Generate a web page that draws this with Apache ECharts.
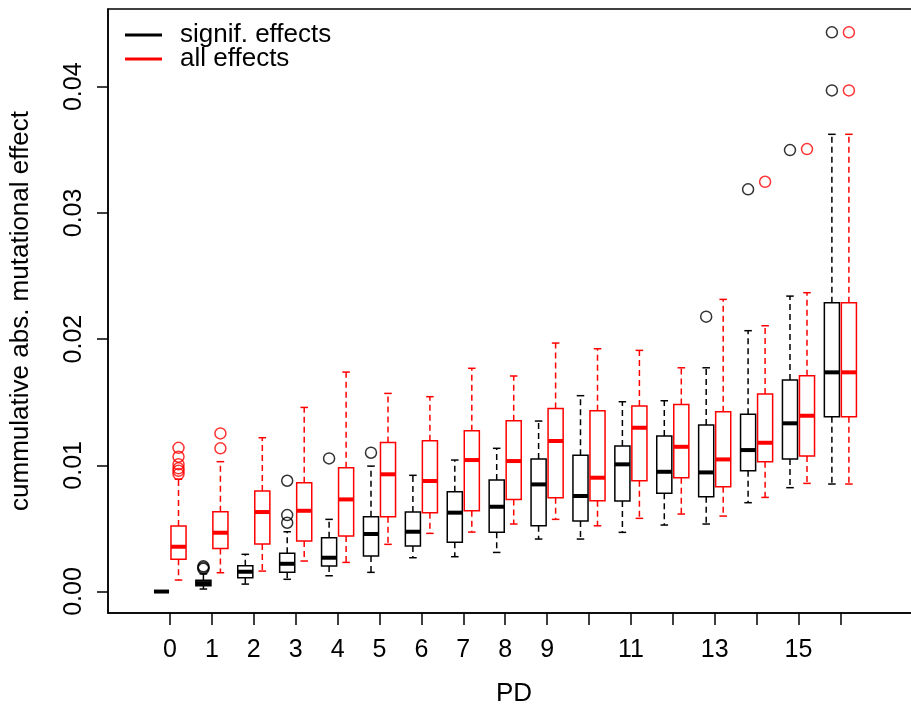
<!DOCTYPE html>
<html>
<head>
<meta charset="utf-8">
<script src="https://cdn.jsdelivr.net/npm/echarts@6/dist/echarts.min.js"></script>
<style>html,body{margin:0;padding:0;background:#fff}#c{width:911px;height:709px}</style>
</head>
<body>
<div id="c"></div>
<script>
// PD categories (positions of the groups)
const pdValues = [0,1,2,3,4,5,6,7,8,9,10,11,12,13,14,15,16];
const pdTickLabels = [0,1,2,3,4,5,6,7,8,9,11,13,15];
const yTickValues = [0, 0.01, 0.02, 0.03, 0.04];

// [min whisker, Q1, median, Q3, max whisker] per PD — significant effects
const signifBoxes = [
  [0, 0, 0, 0, 0],
  [0.00020, 0.00045, 0.00067, 0.00090, 0.00140],
  [0.00059, 0.00109, 0.00157, 0.00205, 0.00295],
  [0.00097, 0.00152, 0.00220, 0.00303, 0.00474],
  [0.00125, 0.00202, 0.00268, 0.00427, 0.00572],
  [0.00152, 0.00281, 0.00456, 0.00593, 0.00994],
  [0.00268, 0.00361, 0.00474, 0.00630, 0.00921],
  [0.00276, 0.00390, 0.00625, 0.00791, 0.01042],
  [0.00310, 0.00469, 0.00672, 0.00884, 0.01135],
  [0.00416, 0.00521, 0.00849, 0.01050, 0.01351],
  [0.00416, 0.00559, 0.00757, 0.01079, 0.01552],
  [0.00469, 0.00717, 0.01008, 0.01153, 0.01504],
  [0.00527, 0.00778, 0.00949, 0.01232, 0.01512],
  [0.00535, 0.00751, 0.00944, 0.01319, 0.01773],
  [0.00704, 0.00957, 0.01121, 0.01404, 0.02067],
  [0.00823, 0.01050, 0.01333, 0.01676, 0.02341],
  [0.00852, 0.01385, 0.01737, 0.02288, 0.03623]
];
// all effects
const allBoxes = [
  [0.00091, 0.00255, 0.00355, 0.00519, 0.00890],
  [0.00149, 0.00342, 0.00466, 0.00632, 0.01029],
  [0.00162, 0.00376, 0.00630, 0.00796, 0.01219],
  [0.00242, 0.00400, 0.00640, 0.00862, 0.01459],
  [0.00231, 0.00440, 0.00730, 0.00981, 0.01739],
  [0.00374, 0.00593, 0.00929, 0.01182, 0.01570],
  [0.00461, 0.00625, 0.00876, 0.01195, 0.01544],
  [0.00471, 0.00640, 0.01042, 0.01274, 0.01769],
  [0.00535, 0.00730, 0.01034, 0.01354, 0.01708],
  [0.00572, 0.00743, 0.01193, 0.01451, 0.01969],
  [0.00521, 0.00720, 0.00902, 0.01433, 0.01924],
  [0.00580, 0.00878, 0.01298, 0.01470, 0.01911],
  [0.00614, 0.00902, 0.01147, 0.01483, 0.01773],
  [0.00598, 0.00830, 0.01047, 0.01425, 0.02315],
  [0.00746, 0.01029, 0.01179, 0.01565, 0.02106],
  [0.00857, 0.01074, 0.01393, 0.01710, 0.02368],
  [0.00852, 0.01385, 0.01737, 0.02288, 0.03623]
];
// outliers: [PD, value]
const signifOutliers = [
  [1, 0.00200], [1, 0.00180], [1, 0.00190],
  [3, 0.00878], [3, 0.00606], [3, 0.00545],
  [4, 0.01055], [5, 0.01100], [13, 0.02178],
  [14, 0.03187], [15, 0.03498], [16, 0.04431], [16, 0.03971]
];
const allOutliers = [
  [0, 0.01139], [0, 0.01068], [0, 0.01008], [0, 0.00976], [0, 0.00957], [0, 0.00931],
  [1, 0.01253], [1, 0.01135],
  [14, 0.03247], [15, 0.03506], [16, 0.04431], [16, 0.03971]
];

const FONT = 'Liberation Sans';
const BLACK = '#000000', RED = '#ff0000';
const OFFSET = 0.203, BOXW = 0.36;

function boxData(boxes) {
  return boxes.map((b, i) => [pdValues[i]].concat(b));
}
function makeRender(color, offset) {
  return function (params, api) {
    const x = api.value(0) + offset;
    const pMin = api.coord([x, api.value(1)]);
    const pQ1 = api.coord([x, api.value(2)]);
    const pMed = api.coord([x, api.value(3)]);
    const pQ3 = api.coord([x, api.value(4)]);
    const pMax = api.coord([x, api.value(5)]);
    const cx = pMed[0];
    const half = api.size([BOXW, 0])[0] / 2;
    const cap = half / 2;
    const solid = { stroke: color, lineWidth: 1.5, fill: null };
    const dashed = { stroke: color, lineWidth: 1.5, lineDash: [6, 4], fill: null };
    const children = [];
    if (pMax[1] < pQ3[1]) {
      children.push({ type: 'line', shape: { x1: cx, y1: pQ3[1], x2: cx, y2: pMax[1] }, style: dashed });
      children.push({ type: 'line', shape: { x1: cx - cap, y1: pMax[1], x2: cx + cap, y2: pMax[1] }, style: solid });
    }
    if (pMin[1] > pQ1[1]) {
      children.push({ type: 'line', shape: { x1: cx, y1: pQ1[1], x2: cx, y2: pMin[1] }, style: dashed });
      children.push({ type: 'line', shape: { x1: cx - cap, y1: pMin[1], x2: cx + cap, y2: pMin[1] }, style: solid });
    }
    children.push({ type: 'rect', shape: { x: cx - half, y: pQ3[1], width: 2 * half, height: pQ1[1] - pQ3[1] },
      style: { stroke: color, lineWidth: 1.5, fill: 'rgba(255,255,255,0)' } });
    children.push({ type: 'line', shape: { x1: cx - half, y1: pMed[1], x2: cx + half, y2: pMed[1] },
      style: { stroke: color, lineWidth: 4 } });
    return { type: 'group', children };
  };
}
function outlierData(list, offset) {
  return list.map(o => [o[0] + offset, o[1]]);
}

const chart = echarts.init(document.getElementById('c'), null, { renderer: 'canvas' });
chart.setOption({
  animation: false,
  backgroundColor: '#fff',
  textStyle: { fontFamily: FONT },
  grid: { left: 108, top: 9, width: 812, height: 604, show: true, borderColor: '#000', borderWidth: 1.5,
    backgroundColor: 'transparent', containLabel: false, outerBoundsMode: 'none' },
  legend: {
    data: [
      { name: 'signif. effects', itemStyle: { color: BLACK } },
      { name: 'all effects', itemStyle: { color: RED } }
    ],
    orient: 'vertical', left: 120, top: 17, itemGap: -2,
    itemWidth: 37, itemHeight: 3, icon: 'rect',
    textStyle: { fontFamily: FONT, fontSize: 26, color: '#000', lineHeight: 24, padding: [0, 0, 0, 13] },
    selectedMode: false
  },
  xAxis: {
    type: 'value', min: -1.48, max: 17.9,
    name: 'PD', nameLocation: 'middle', nameGap: 68,
    nameTextStyle: { fontFamily: FONT, fontSize: 26, color: '#000' },
    axisLine: { show: true, onZero: false, lineStyle: { color: '#000', width: 1.5 } },
    axisTick: { show: true, length: 12, lineStyle: { color: '#000', width: 1.5 }, customValues: pdValues },
    axisLabel: { fontFamily: FONT, fontSize: 25, color: '#000', margin: 25, customValues: pdTickLabels },
    splitLine: { show: false }
  },
  yAxis: {
    type: 'value', min: -0.0017, max: 0.04616,
    name: 'cummulative abs. mutational effect', nameLocation: 'middle', nameGap: 74, nameRotate: 90,
    nameTextStyle: { fontFamily: FONT, fontSize: 26, color: '#000' },
    axisLine: { show: true, onZero: false, lineStyle: { color: '#000', width: 1.5 } },
    axisTick: { show: true, length: 11, lineStyle: { color: '#000', width: 1.5 }, customValues: yTickValues },
    axisLabel: { fontFamily: FONT, fontSize: 25, color: '#000', margin: 21, rotate: 90,
      customValues: yTickValues, formatter: v => v.toFixed(2) },
    splitLine: { show: false }
  },
  series: [
    { name: 'signif. effects', type: 'custom', renderItem: makeRender(BLACK, -OFFSET),
      itemStyle: { color: BLACK }, encode: { x: 0, y: [1, 2, 3, 4, 5] }, data: boxData(signifBoxes), z: 2 },
    { name: 'all effects', type: 'custom', renderItem: makeRender(RED, OFFSET),
      itemStyle: { color: RED }, encode: { x: 0, y: [1, 2, 3, 4, 5] }, data: boxData(allBoxes), z: 2 },
    { name: 'signif outliers', type: 'scatter', symbol: 'circle', symbolSize: 11,
      itemStyle: { color: 'rgba(255,255,255,0)', borderColor: BLACK, borderWidth: 1.5 },
      data: outlierData(signifOutliers, -OFFSET), z: 3 },
    { name: 'all outliers', type: 'scatter', symbol: 'circle', symbolSize: 11,
      itemStyle: { color: 'rgba(255,255,255,0)', borderColor: RED, borderWidth: 1.5 },
      data: outlierData(allOutliers, OFFSET), z: 3 }
  ]
});
</script>
</body>
</html>
